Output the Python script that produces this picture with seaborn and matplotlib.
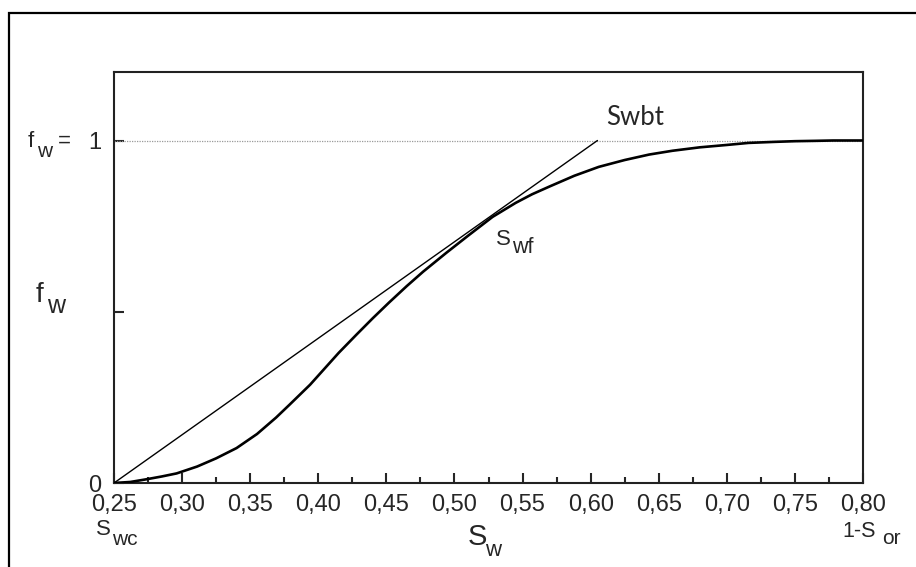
import matplotlib
matplotlib.use("Agg")
import matplotlib.pyplot as plt
import seaborn as sns
import numpy as np
import pandas as pd
from matplotlib.patches import Rectangle

# ---- data ----
sw_curve = [0.25, 0.262, 0.274, 0.285, 0.296, 0.311, 0.325, 0.340, 0.355, 0.369,
            0.379, 0.394, 0.401, 0.415, 0.428, 0.440, 0.452, 0.465, 0.477, 0.494,
            0.510, 0.528, 0.545, 0.557, 0.570, 0.588, 0.606, 0.625, 0.643, 0.660,
            0.680, 0.700, 0.716, 0.735, 0.750, 0.765, 0.778, 0.80]
fw_curve = [0.0, 0.003, 0.011, 0.019, 0.028, 0.048, 0.072, 0.102, 0.143, 0.191,
            0.229, 0.287, 0.318, 0.380, 0.433, 0.481, 0.527, 0.575, 0.617, 0.672,
            0.722, 0.777, 0.818, 0.843, 0.866, 0.897, 0.923, 0.943, 0.959, 0.970,
            0.980, 0.987, 0.993, 0.996, 0.998, 0.999, 1.0, 1.0]
sw_tangent = [0.25, 0.605]
fw_tangent = [0.0, 1.0]
x_ticks = [0.25, 0.30, 0.35, 0.40, 0.45, 0.50, 0.55, 0.60, 0.65, 0.70, 0.75, 0.80]
x_ticklabels = ["0,25", "0,30", "0,35", "0,40", "0,45", "0,50", "0,55", "0,60",
                "0,65", "0,70", "0,75", "0,80"]
y_ticks = [0.0, 0.5, 1.0]
y_ticklabels = ["0", "", "1"]

sns.set_style("ticks")
plt.rcParams["font.family"] = ["Liberation Sans", "DejaVu Sans"]

W, H = 916, 567
fig = plt.figure(figsize=(W / 100, H / 100), dpi=100)
ax = fig.add_axes([114 / W, 1 - 483 / H, (863 - 114) / W, (483 - 72) / H])

df_curve = pd.DataFrame({"Sw": sw_curve, "fw": fw_curve})
df_tan = pd.DataFrame({"Sw": sw_tangent, "fw": fw_tangent})

ax.axhline(1.0, color="#9a9a9a", lw=0.9, ls=(0, (1, 1)), zorder=1)
sns.lineplot(data=df_tan, x="Sw", y="fw", color="black", lw=1.0, ax=ax, zorder=3)
sns.lineplot(data=df_curve, x="Sw", y="fw", color="black", lw=1.9, ax=ax, zorder=4)

ax.set_xlim(0.25, 0.80)
ax.set_ylim(0.0, 1.2)
ax.set_xticks(x_ticks)
ax.set_xticklabels(x_ticklabels)
ax.set_xticks(np.array(x_ticks[:-1]) + 0.025, minor=True)
ax.set_yticks(y_ticks)
ax.set_yticklabels(y_ticklabels)
ax.set_xlabel("")
ax.set_ylabel("")
for s in ax.spines.values():
    s.set_linewidth(1.5)
    s.set_color("#222222")
ax.tick_params(axis="x", which="major", direction="in", length=7, width=1.5,
               labelsize=17, pad=8)
ax.tick_params(axis="x", which="minor", direction="in", length=4, width=1.5)
ax.tick_params(axis="y", which="major", direction="in", length=7, width=1.5,
               labelsize=17, pad=9)
ax.get_yticklabels()[0].set_y(0.02)


def px_text(x, y, s, size, **kw):
    fig.text(x / W, 1 - y / H, s, fontsize=size, ha="left", va="baseline", **kw)


# f_w = 1 label
px_text(28, 147, "f", 16)
px_text(37, 157, "w", 15)
px_text(58, 147, "=", 16)
# f_w axis label
px_text(36, 302, "f", 20)
px_text(47, 313, "w", 18)
# S_wc
px_text(96, 535, "S", 16)
px_text(112, 545, "wc", 15)
# S_w
px_text(468, 545, "S", 21)
px_text(485, 556, "w", 16)
# 1-S_or
px_text(842, 537, "1-S", 15.5)
px_text(882, 544, "or", 15)
# S_wf
px_text(496, 245, "S", 16)
px_text(512, 253, "wf", 15.5)
# Swbt
px_text(606, 125, "Swbt", 18.5, family=["Lato", "DejaVu Sans"])

# outer frame
fig.patches.append(Rectangle((9 / W, -0.2), 1.3, 1.2 - 13 / H, transform=fig.transFigure,
                             fill=False, ec="black", lw=1.6))

fig.savefig("out.png", dpi=100)
